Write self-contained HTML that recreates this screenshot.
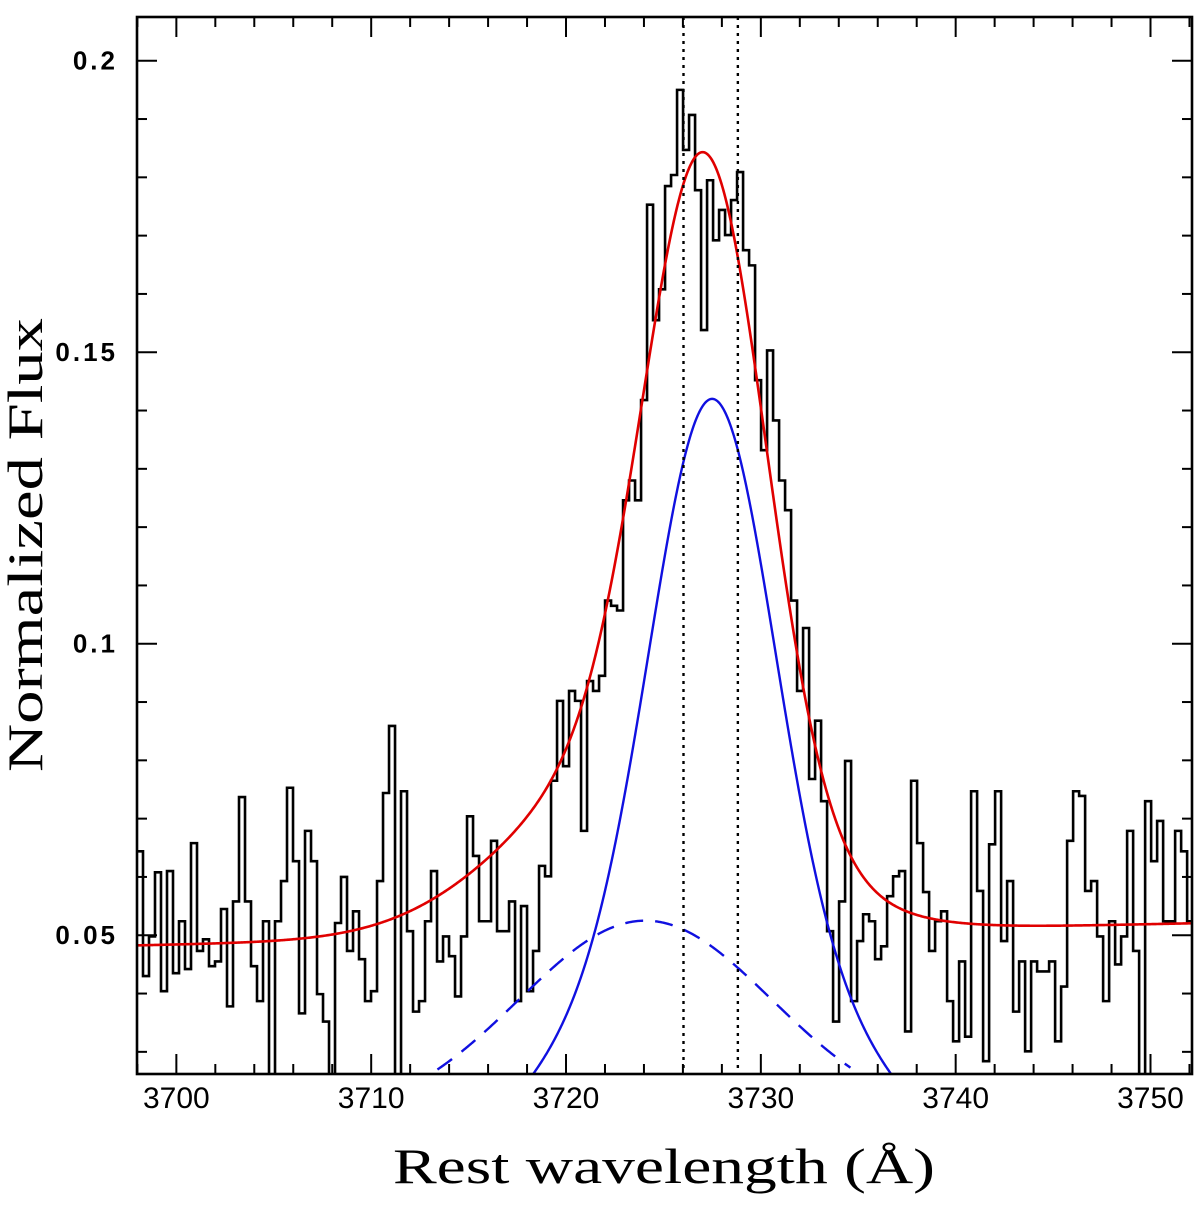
<!DOCTYPE html>
<html><head><meta charset="utf-8"><style>
html,body{margin:0;padding:0;background:#fff;}
svg{display:block;}
</style></head><body>
<svg id="chart" width="1200" height="1206" viewBox="0 0 1200 1206" xmlns="http://www.w3.org/2000/svg">
<defs><clipPath id="plotclip"><rect x="137" y="17" width="1055" height="1057"/></clipPath></defs>
<g id="marks" clip-path="url(#plotclip)"></g>
<g id="axes"></g>
<text x="664" y="1183" font-family="Liberation Serif, serif" font-size="50" text-anchor="middle" textLength="542" lengthAdjust="spacingAndGlyphs" fill="#000">Rest  wavelength  (Å)</text>
<text transform="translate(42,545) rotate(-90)" font-family="Liberation Serif, serif" font-size="50" text-anchor="middle" textLength="454" lengthAdjust="spacingAndGlyphs" fill="#000">Normalized Flux</text>
</svg>
<script>
// ---- data ----
const binStart = 3697.98;
const binStep = 0.308;
const flux = [0.0644,0.0430,0.0498,0.0608,0.0404,0.0610,0.0435,0.0524,0.0442,0.0658,
0.0473,0.0493,0.0447,0.0455,0.0545,0.0378,0.0558,0.0737,0.0558,0.0447,
0.0387,0.0524,0.022,0.0524,0.0593,0.0753,0.0627,0.0366,0.0679,0.0627,
0.0399,0.0352,0.022,0.0521,0.0600,0.0473,0.0541,0.0459,0.0387,0.0404,
0.0593,0.0744,0.0859,0.022,0.0747,0.0507,0.0369,0.0387,0.0524,0.0610,
0.0455,0.0498,0.0464,0.0395,0.0498,0.0704,0.0636,0.0524,0.0524,0.0662,
0.0507,0.0507,0.0558,0.0387,0.0550,0.0404,0.0473,0.0619,0.0601,0.0765,
0.0902,0.0790,0.0919,0.0902,0.0679,0.0936,0.0919,0.0945,0.1074,0.1065,
0.1057,0.1246,0.1280,0.1246,0.1418,0.1753,0.1555,0.1608,0.1785,0.1804,
0.1950,0.1847,0.1907,0.1778,0.1538,0.1795,0.1692,0.1744,0.1701,0.1761,
0.1809,0.1675,0.1649,0.1452,0.1332,0.1503,0.1383,0.1280,0.1229,0.1074,
0.0919,0.1027,0.0768,0.0868,0.0730,0.0507,0.0352,0.0558,0.0799,0.0387,
0.0490,0.0536,0.0524,0.0459,0.0481,0.0567,0.0601,0.0610,0.0335,0.0765,
0.0658,0.0574,0.0473,0.0524,0.0541,0.0387,0.0318,0.0455,0.0326,0.0747,
0.0576,0.0284,0.0656,0.0747,0.0490,0.0593,0.0369,0.0455,0.0301,0.0455,
0.0438,0.0438,0.0455,0.0318,0.0412,0.0662,0.0747,0.0739,0.0576,0.0593,
0.0498,0.0387,0.0524,0.0450,0.0498,0.0679,0.0473,0.022,0.0730,0.0627,
0.0696,0.0524,0.0524,0.0679,0.0644,0.0524];
// fit model parameters
const totalBaseline = [0.0484, 0.00007];          // intercept at 3700, slope per Å
const totalComponents = [[3727.2, 3.1, 0.108], [3723.8, 6.2, 0.03]]; // center, sigma, amp
const narrowComponents = [[3727.5, 3.1, 0.0936], [3727.5, 8.0, 0.0484]];
const broadParams = [3724.07, 6.5, 0.0345, 0.018]; // center, sigma, amp, offset
const broadRange = [3713.4, 3734.6];
const lineMarkers = [3726.03, 3728.82];
const xTicks = [3700, 3710, 3720, 3730, 3740, 3750];
const yTicks = [0.05, 0.1, 0.15, 0.2];
const yTickLabels = ["0.05", "0.1", "0.15", "0.2"];
const xDomain = [3697.98, 3752.13];
const yDomain = [0.0262, 0.2075];

// ---- scales ----
const L = 137, R = 1192, T = 17, B = 1074;
function xs(v){ return L + (v - xDomain[0]) / (xDomain[1] - xDomain[0]) * (R - L); }
function ys(v){ return B - (v - yDomain[0]) / (yDomain[1] - yDomain[0]) * (B - T); }
const NS = "http://www.w3.org/2000/svg";
const marks = document.getElementById('marks');
const axes = document.getElementById('axes');
function mk(tag, attrs, parent){ const e = document.createElementNS(NS, tag); for (const k in attrs) e.setAttribute(k, attrs[k]); parent.appendChild(e); return e; }
function g(c, l){ return Math.exp(-(l - c[0]) * (l - c[0]) / (2 * c[1] * c[1])) * c[2]; }

// histogram
let d = "";
for (let i = 0; i < flux.length; i++) {
  const x0 = xs(binStart + i * binStep), x1 = xs(binStart + (i + 1) * binStep), y = ys(flux[i]);
  d += (i === 0 ? "M" + x0 + "," + y : "L" + x0 + "," + y) + "L" + x1 + "," + y;
}
const hist = mk('path', {d: d, fill: 'none', stroke: '#000', 'stroke-width': 2.6}, marks);



function curve(fn, a, b, attrs, name){
  let p = "";
  for (let l = a; l <= b + 1e-9; l += 0.05) p += (p ? "L" : "M") + xs(l).toFixed(2) + "," + ys(fn(l)).toFixed(2);
  const el = mk('path', Object.assign({d: p, fill: 'none'}, attrs), marks);
  
  
}
curve(l => broadParams[3] + g(broadParams, l), broadRange[0], broadRange[1], {stroke: '#1010e0', 'stroke-width': 2.4, 'stroke-dasharray': '18,12'}, 'broad-component-fit');
curve(l => narrowComponents.reduce((s, c) => s + g(c, l), 0), 3710, 3745, {stroke: '#1010e0', 'stroke-width': 2.4}, 'narrow-component-fit');
curve(l => totalBaseline[0] + totalBaseline[1] * (l - 3700) + totalComponents.reduce((s, c) => s + g(c, l), 0), xDomain[0], xDomain[1], {stroke: '#e00000', 'stroke-width': 2.6}, 'total-fit');

lineMarkers.forEach(v => {
  const ln = mk('line', {x1: xs(v), x2: xs(v), y1: T, y2: B, stroke: '#000', 'stroke-width': 2.4, 'stroke-dasharray': '3,5'}, marks);
  
  
});

// frame
const frame = mk('rect', {x: L, y: T, width: R - L, height: B - T, fill: 'none', stroke: '#000', 'stroke-width': 2.6}, axes);



// x ticks
for (let v = 3698; v <= 3752; v += 2) {
  const major = v % 10 === 0, len = major ? 20 : 10, x = xs(v);
  mk('line', {x1: x, x2: x, y1: B, y2: B - len, stroke: '#000', 'stroke-width': 2}, axes);
  mk('line', {x1: x, x2: x, y1: T, y2: T + len, stroke: '#000', 'stroke-width': 2}, axes);
}
xTicks.forEach(v => {
  const t = mk('text', {x: xs(v), y: 1108, 'text-anchor': 'middle', 'font-family': 'Liberation Sans, sans-serif', 'font-size': 30, fill: '#000'}, axes);
  t.textContent = String(v);
  
  
});
// y ticks
for (let k = 3; k <= 20; k++) {
  const v = k / 100, major = k % 5 === 0, len = major ? 20 : 10, y = ys(v);
  mk('line', {x1: L, x2: L + len, y1: y, y2: y, stroke: '#000', 'stroke-width': 2}, axes);
  mk('line', {x1: R, x2: R - len, y1: y, y2: y, stroke: '#000', 'stroke-width': 2}, axes);
}
yTicks.forEach((v, i) => {
  const t = mk('text', {x: 118, y: ys(v) + 9, 'text-anchor': 'end', 'font-family': 'Liberation Sans, sans-serif', 'font-size': 26, 'font-weight': 'bold', 'letter-spacing': 3, fill: '#000'}, axes);
  t.textContent = yTickLabels[i];
  
  
});
</script>
</body></html>
